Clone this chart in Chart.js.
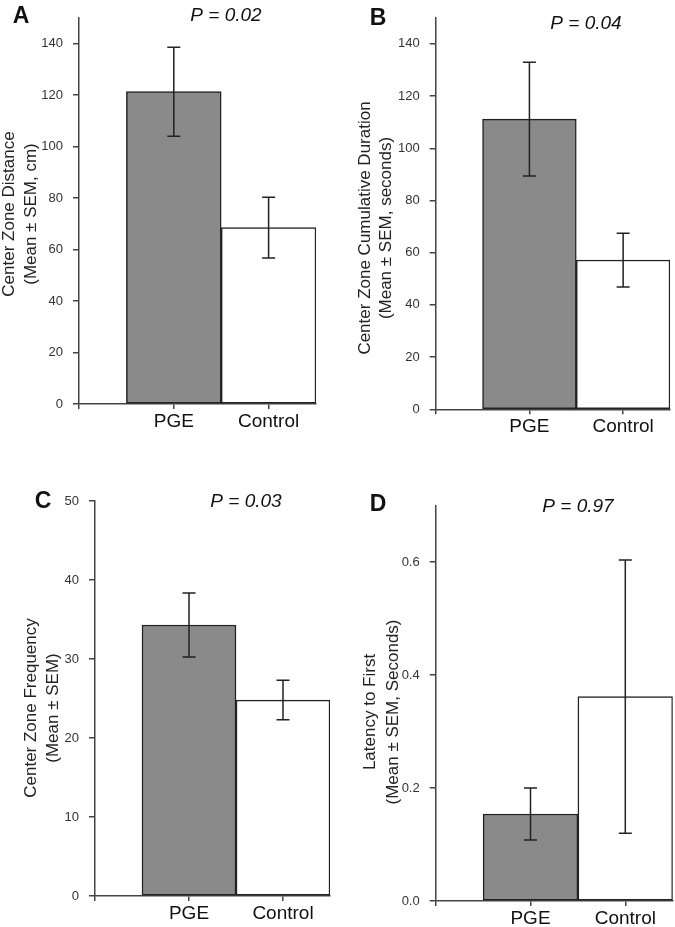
<!DOCTYPE html>
<html>
<head>
<meta charset="utf-8">
<script src="https://cdn.jsdelivr.net/npm/chart.js@4.4.1/dist/chart.umd.min.js"></script>
<style>
  body { margin: 0; background: #fff; }
  #page { position: relative; width: 675px; height: 927px; }
  canvas { position: absolute; }
</style>
</head>
<body>
<div id="page">
  <canvas id="panelA" width="337" height="460" style="left:0;top:0"></canvas>
  <canvas id="panelB" width="338" height="460" style="left:337px;top:0"></canvas>
  <canvas id="panelC" width="337" height="467" style="left:0;top:460px"></canvas>
  <canvas id="panelD" width="338" height="467" style="left:337px;top:460px"></canvas>
</div>
<script>
// groups
const categories = ['PGE', 'Control'];

// A: center zone distance (cm)
const distanceMean = [121.3, 68.5];
const distanceSem = [17.3, 11.8];

// B: center zone cumulative duration (s)
const durationMean = [111.2, 57.2];
const durationSem = [21.8, 10.3];

// C: center zone frequency
const frequencyMean = [34.3, 24.8];
const frequencySem = [4.05, 2.5];

// D: latency to first (s)
const latencyMean = [0.154, 0.362];
const latencySem = [0.046, 0.242];

const barColors = ['#8a8a8a', '#ffffff'];
const inkColor = '#222';
const axisColor = '#444';
const fontFamily = '"Liberation Sans", Arial, sans-serif';

// error bars drawn through the chart's own scales
const errorBars = {
    id: 'errorBars',
    afterDatasetsDraw(chart) {
        const sem = chart.options.plugins.errorBars.sem;
        const ds = chart.data.datasets[0];
        const x = chart.scales.x, y = chart.scales.y;
        const ctx = chart.ctx;
        ctx.save();
        ctx.strokeStyle = inkColor;
        ctx.lineWidth = 1.5;
        ds.data.forEach((pt, i) => {
            const px = x.getPixelForValue(pt.x);
            const top = y.getPixelForValue(pt.y + sem[i]);
            const bot = y.getPixelForValue(pt.y - sem[i]);
            ctx.beginPath();
            ctx.moveTo(px, top); ctx.lineTo(px, bot);
            ctx.moveTo(px - 6.5, top); ctx.lineTo(px + 6.5, top);
            ctx.moveTo(px - 6.5, bot); ctx.lineTo(px + 6.5, bot);
            ctx.stroke();
        });
        ctx.restore();
    }
};

// panel letter, P value and two-line y title
const panelText = {
    id: 'panelText',
    afterDraw(chart) {
        const o = chart.options.plugins.panelText;
        const ctx = chart.ctx;
        ctx.save();
        ctx.fillStyle = '#111';
        ctx.textAlign = 'center';
        ctx.textBaseline = 'middle';
        ctx.font = 'bold 23px ' + fontFamily;
        ctx.fillText(o.letter, o.letterPos[0], o.letterPos[1]);
        ctx.font = 'italic 19px ' + fontFamily;
        ctx.fillText(o.pText, o.pPos[0], o.pPos[1]);
        ctx.font = '17px ' + fontFamily;
        ctx.fillStyle = '#222';
        o.title.forEach((line, i) => {
            ctx.save();
            ctx.translate(o.titleX[i], o.titleY);
            ctx.rotate(-Math.PI / 2);
            ctx.fillText(line, 0, 0);
            ctx.restore();
        });
        ctx.restore();
    }
};

function makePanel(id, mean, sem, yMax, yStep, decimals, area, text) {
    const canvas = document.getElementById(id);
    return new Chart(canvas, {
        type: 'bar',
        data: {
            datasets: [{
                data: mean.map((v, i) => ({ x: i, y: v })),
                backgroundColor: barColors,
                borderColor: inkColor,
                borderWidth: 1.5,
                borderSkipped: false,
                barPercentage: 1,
                categoryPercentage: 1
            }]
        },
        options: {
            responsive: false,
            animation: false,
            layout: { padding: { left: 0, bottom: 0, top: area.top, right: canvas.width - area.right } },
            plugins: {
                legend: { display: false },
                tooltip: { enabled: false },
                errorBars: { sem: sem },
                panelText: text
            },
            scales: {
                x: {
                    type: 'linear',
                    offset: false,
                    min: -1,
                    max: 1.5,
                    afterBuildTicks: s => { s.ticks = s.ticks.filter(t => Number.isInteger(t.value)); },
                    afterFit: s => { s.height = canvas.height - area.bottom; },
                    ticks: {
                        stepSize: 1,
                        autoSkip: false,
                        maxRotation: 0,
                        padding: 1,
                        color: '#111',
                        font: { family: fontFamily, size: 19 },
                        callback: v => categories[v] || ''
                    },
                    grid: { offset: false, drawOnChartArea: false, tickLength: 5, tickColor: axisColor, lineWidth: 1.5 },
                    border: { color: axisColor, width: 1.5 }
                },
                y: {
                    min: 0,
                    max: yMax,
                    afterBuildTicks: s => {
                        s.ticks = s.ticks.filter(t => Math.abs(t.value / yStep - Math.round(t.value / yStep)) < 1e-6);
                    },
                    afterFit: s => { s.width = area.left; },
                    ticks: {
                        stepSize: yStep,
                        padding: 10,
                        color: '#333',
                        font: { family: fontFamily, size: 13 },
                        callback: v => v.toFixed(decimals)
                    },
                    grid: { drawOnChartArea: false, tickLength: 6, tickColor: axisColor, lineWidth: 1.5 },
                    border: { color: axisColor, width: 1.5 }
                }
            }
        },
        plugins: [errorBars, panelText]
    });
}

makePanel('panelA', distanceMean, distanceSem, 150, 20, 0,
    { left: 79, right: 316, top: 8.6, bottom: 404 },
    { letter: 'A', letterPos: [21, 17], pText: 'P = 0.02', pPos: [226, 16],
      title: ['Center Zone Distance', '(Mean ± SEM, cm)'], titleX: [9, 31], titleY: 214 });

makePanel('panelB', durationMean, durationSem, 150, 20, 0,
    { left: 98.7, right: 333, top: 13.3, bottom: 409.3 },
    { letter: 'B', letterPos: [41, 19], pText: 'P = 0.04', pPos: [249, 24],
      title: ['Center Zone Cumulative Duration', '(Mean ± SEM, seconds)'], titleX: [28, 49], titleY: 228 });

makePanel('panelC', frequencyMean, frequencySem, 50, 10, 0,
    { left: 95, right: 330, top: 41, bottom: 436 },
    { letter: 'C', letterPos: [43, 42], pText: 'P = 0.03', pPos: [246, 42],
      title: ['Center Zone Frequency', '(Mean ± SEM)'], titleX: [31, 53], titleY: 248 });

makePanel('panelD', latencyMean, latencySem, 0.7, 0.2, 1,
    { left: 98.7, right: 335.7, top: 45.7, bottom: 441 },
    { letter: 'D', letterPos: [41, 45], pText: 'P = 0.97', pPos: [241, 47],
      title: ['Latency to First', '(Mean ± SEM, Seconds)'], titleX: [33, 56], titleY: 252 });
</script>
</body>
</html>
